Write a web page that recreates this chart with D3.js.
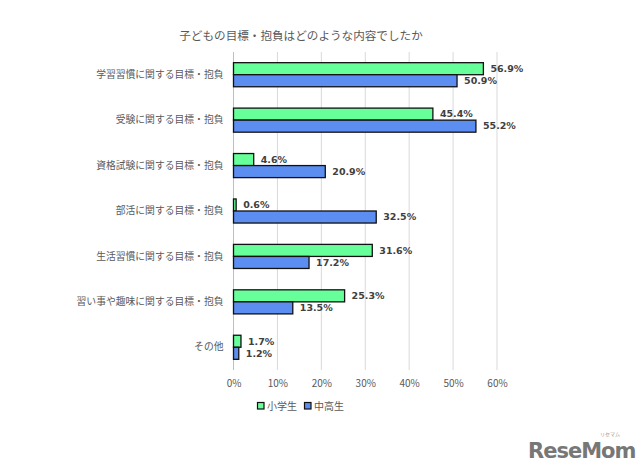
<!DOCTYPE html>
<html><head><meta charset="utf-8">
<script src="https://cdn.jsdelivr.net/npm/d3@7"></script>
<style>body{margin:0;background:#fff}svg{display:block}</style>
</head><body>
<script>
const title = "子どもの目標・抱負はどのような内容でしたか";
const categories = ["学習習慣に関する目標・抱負","受験に関する目標・抱負","資格試験に関する目標・抱負","部活に関する目標・抱負","生活習慣に関する目標・抱負","習い事や趣味に関する目標・抱負","その他"];
const seriesNames = ["小学生","中高生"];
const elementary = [56.9,45.4,4.6,0.6,31.6,25.3,1.7];
const secondary = [50.9,55.2,20.9,32.5,17.2,13.5,1.2];
const ticks = [0,10,20,30,40,50,60];
const colors = ["#66ff99","#5b8ef0"];

(function(){
const W=640,H=474;
const svg=d3.select("body").append("svg").attr("width",W).attr("height",H);
const jp="'Noto Sans CJK JP','Noto Sans',sans-serif";
const pL=233.5,pR=497,pT=52,pB=370;
const x=d3.scaleLinear().domain([0,60]).range([pL,pR]);
const y=d3.scaleBand().domain(categories).range([pT,pB]).paddingInner(0.47).paddingOuter(0.235);
const ys=d3.scaleBand().domain([0,1]).range([0,y.bandwidth()]);

svg.append("text").attr("x",301).attr("y",40).attr("text-anchor","middle")
  .attr("font-family",jp).attr("font-size",11.6).attr("fill","#595959").text(title);

const grid=svg.append("g");
grid.selectAll("line").data(ticks.slice(1)).join("line")
  .attr("x1",d=>x(d)).attr("x2",d=>x(d)).attr("y1",pT).attr("y2",pB)
  .attr("stroke","#d9d9d9").attr("stroke-width",1);
svg.append("line").attr("x1",pL).attr("x2",pL).attr("y1",pT).attr("y2",pB).attr("stroke","#bfbfbf");

const xa=svg.append("g").attr("transform",`translate(0,${pB})`)
  .call(d3.axisBottom(x).tickValues(ticks).tickFormat(d=>d+"%").tickSize(0).tickPadding(10));
xa.select(".domain").remove();
xa.selectAll("text").attr("font-family",jp).attr("font-size",10).attr("fill","#595959");

const ya=svg.append("g").attr("transform",`translate(${pL-10},0)`)
  .call(d3.axisLeft(y).tickSize(0).tickPadding(0));
ya.select(".domain").remove();
ya.selectAll("text").attr("font-family",jp).attr("font-size",9.8).attr("fill","#595959");

const data=[elementary,secondary];
data.forEach((vals,si)=>{
  const g=svg.append("g");
  g.selectAll("rect").data(vals).join("rect")
    .attr("x",x(0)).attr("y",(d,i)=>y(categories[i])+ys(si))
    .attr("width",d=>x(d)-x(0)).attr("height",ys.bandwidth())
    .attr("fill",colors[si]).attr("stroke","#111").attr("stroke-width",1.3);
  g.selectAll("text").data(vals).join("text")
    .attr("x",d=>x(d)+7).attr("y",(d,i)=>y(categories[i])+ys(si)+ys.bandwidth()/2)
    .attr("dy","0.35em").attr("font-family","'DejaVu Sans',Verdana,sans-serif")
    .attr("font-weight","bold").attr("font-size",9.5).attr("fill","#404040")
    .text(d=>d.toFixed(1)+"%");
});

const lg=svg.append("g").attr("transform","translate(257,406)");
const lx=[0,47];
seriesNames.forEach((n,i)=>{
  lg.append("rect").attr("x",lx[i]+0.5).attr("y",-3.5).attr("width",6.5).attr("height",6.5)
    .attr("fill",colors[i]).attr("stroke","#111").attr("stroke-width",1.2);
  lg.append("text").attr("x",lx[i]+10).attr("y",0).attr("dy","0.35em")
    .attr("font-family",jp).attr("font-size",10).attr("fill","#595959").text(n);
});

svg.append("text").attr("x",528).attr("y",458).attr("font-family","'DejaVu Sans',sans-serif")
  .attr("font-weight","bold").attr("font-size",21).attr("fill","#777").attr("letter-spacing",-1).text("ReseMom");
svg.append("text").attr("x",600).attr("y",436).attr("font-family",jp)
  .attr("font-size",5).attr("fill","#999").text("リセマム");
})();
</script>
</body></html>
